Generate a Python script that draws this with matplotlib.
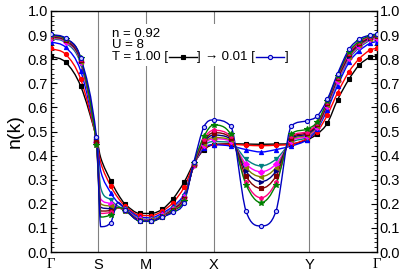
import numpy as np
import matplotlib
matplotlib.use("Agg")
import matplotlib.pyplot as plt
from matplotlib.path import Path
from matplotlib.patches import PathPatch, Rectangle
from matplotlib.lines import Line2D

# k-path coordinate of each sampled point (Gamma=0 ... Gamma=15.17)
k_path = [0.000, 0.698, 1.396, 2.131, 2.330, 2.792, 3.132, 3.471, 4.155, 4.667,
          5.202, 5.691, 6.203, 6.668, 7.134, 7.576, 8.367, 9.088, 9.786, 10.484,
          11.205, 11.926, 12.406, 12.871, 13.346, 13.881, 14.360, 14.858, 15.170]
has_marker = [1, 1, 1, 1, 0, 1, 0, 1, 1, 1,
              1, 1, 1, 1, 1, 1, 1, 1, 1, 1,
              1, 1, 1, 1, 1, 1, 1, 1, 1]
tick_pos = [0.0, 2.221, 4.443, 7.584, 12.027, 15.170]
tick_labels = ["Γ", "S", "M", "X", "Y", "Γ"]

n_T100 = [0.813, 0.787, 0.688, 0.475, 0.390, 0.296, 0.240, 0.198, 0.160, 0.160,
          0.178, 0.221, 0.289, 0.369, 0.425, 0.445, 0.449, 0.448, 0.447, 0.448,
          0.449, 0.465, 0.490, 0.534, 0.631, 0.717, 0.776, 0.808, 0.813]
n_red = [0.845, 0.820, 0.717, 0.470, 0.370, 0.274, 0.225, 0.190, 0.152, 0.151,
         0.170, 0.205, 0.268, 0.365, 0.430, 0.445, 0.447, 0.443, 0.441, 0.443,
         0.447, 0.470, 0.500, 0.568, 0.660, 0.748, 0.802, 0.838, 0.845]
n_blue = [0.873, 0.849, 0.751, 0.470, 0.335, 0.246, 0.205, 0.183, 0.145, 0.142,
          0.162, 0.190, 0.240, 0.362, 0.432, 0.445, 0.440, 0.425, 0.415, 0.425,
          0.440, 0.465, 0.510, 0.590, 0.690, 0.787, 0.835, 0.866, 0.873]
n_teal = [0.887, 0.868, 0.780, 0.465, 0.265, 0.216, 0.190, 0.178, 0.138, 0.135,
          0.155, 0.183, 0.232, 0.360, 0.440, 0.458, 0.455, 0.385, 0.357, 0.385,
          0.455, 0.475, 0.515, 0.600, 0.705, 0.800, 0.848, 0.878, 0.887]
n_magenta = [0.890, 0.872, 0.787, 0.455, 0.220, 0.200, 0.185, 0.176, 0.135, 0.132,
             0.152, 0.180, 0.228, 0.360, 0.445, 0.470, 0.460, 0.365, 0.333, 0.365,
             0.460, 0.480, 0.518, 0.605, 0.710, 0.805, 0.853, 0.882, 0.890]
n_olive = [0.892, 0.875, 0.790, 0.458, 0.200, 0.190, 0.184, 0.175, 0.133, 0.131,
           0.150, 0.178, 0.225, 0.360, 0.450, 0.475, 0.465, 0.350, 0.313, 0.350,
           0.465, 0.485, 0.522, 0.610, 0.715, 0.810, 0.857, 0.885, 0.892]
n_navy = [0.895, 0.878, 0.794, 0.460, 0.185, 0.180, 0.183, 0.174, 0.131, 0.130,
          0.148, 0.176, 0.222, 0.362, 0.455, 0.485, 0.470, 0.335, 0.292, 0.335,
          0.470, 0.490, 0.526, 0.615, 0.720, 0.815, 0.862, 0.888, 0.895]
n_maroon = [0.896, 0.880, 0.797, 0.455, 0.170, 0.172, 0.182, 0.173, 0.130, 0.129,
            0.147, 0.174, 0.220, 0.365, 0.460, 0.495, 0.475, 0.315, 0.264, 0.315,
            0.475, 0.495, 0.530, 0.618, 0.724, 0.820, 0.866, 0.891, 0.897]
n_pink = [0.898, 0.882, 0.800, 0.445, 0.160, 0.165, 0.182, 0.172, 0.129, 0.128,
          0.146, 0.172, 0.217, 0.367, 0.470, 0.505, 0.480, 0.290, 0.225, 0.290,
          0.480, 0.500, 0.535, 0.622, 0.728, 0.825, 0.870, 0.894, 0.900]
n_green = [0.900, 0.884, 0.803, 0.445, 0.145, 0.155, 0.185, 0.172, 0.128, 0.127,
           0.145, 0.170, 0.213, 0.370, 0.480, 0.527, 0.490, 0.280, 0.205, 0.280,
           0.490, 0.510, 0.540, 0.626, 0.732, 0.830, 0.875, 0.897, 0.902]
n_T001 = [0.903, 0.887, 0.806, 0.478, 0.105, 0.122, 0.206, 0.176, 0.129, 0.128,
          0.145, 0.165, 0.205, 0.375, 0.520, 0.548, 0.523, 0.170, 0.108, 0.170,
          0.523, 0.545, 0.564, 0.633, 0.739, 0.841, 0.883, 0.900, 0.903]

series = [
    (n_T100, "#000000", "s", "#000000"),
    (n_red, "#FF0000", "o", "#FF0000"),
    (n_blue, "#0000FF", "^", "#0000FF"),
    (n_teal, "#008080", "v", "#008080"),
    (n_magenta, "#FF00FF", "D", "#FF00FF"),
    (n_olive, "#808000", "<", "#808000"),
    (n_navy, "#000080", ">", "#000080"),
    (n_maroon, "#800000", "s", "#800000"),
    (n_pink, "#FF0080", "p", "#FF0080"),
    (n_green, "#008000", "*", "#008000"),
    (n_T001, "#0000C0", "o", "#C8C8FF"),
]


def smooth_path(x, y):
    """Smooth cubic through the points (central-difference tangents,
    limited so the curve does not overshoot), as a Bezier path."""
    x = np.asarray(x, float)
    y = np.asarray(y, float)
    h = np.diff(x)
    d = np.diff(y) / h
    m = np.zeros_like(y)
    m[1:-1] = (y[2:] - y[:-2]) / (x[2:] - x[:-2])
    m[0] = d[0]
    m[-1] = d[-1]
    for i in range(1, len(x) - 1):
        if d[i - 1] * d[i] <= 0:
            m[i] = 0.0
        else:
            lim = 3 * min(abs(d[i - 1]), abs(d[i]))
            m[i] = np.sign(m[i]) * min(abs(m[i]), lim)
    verts = [(x[0], y[0])]
    codes = [Path.MOVETO]
    for i in range(len(h)):
        verts += [(x[i] + h[i] / 3, y[i] + m[i] * h[i] / 3),
                  (x[i + 1] - h[i] / 3, y[i + 1] - m[i + 1] * h[i] / 3),
                  (x[i + 1], y[i + 1])]
        codes += [Path.CURVE4] * 3
    return Path(verts, codes)


plt.rcParams["font.family"] = ["Liberation Sans", "DejaVu Sans"]
fig = plt.figure(figsize=(4.04, 2.73), dpi=100)
ax = fig.add_axes([50.7 / 404, 21 / 273, 326 / 404, 241 / 273])

for xp in tick_pos[1:-1]:
    ax.axvline(xp, color="#808080", lw=0.8, zorder=1)

# white box behind annotation text
ax.add_patch(Rectangle((0.17, 0.77), 0.62, 0.175, transform=ax.transAxes,
                       facecolor="white", edgecolor="none", zorder=2))

kx = np.array(k_path)
mk = np.array(has_marker, bool)
for vals, col, mar, fc in series:
    ax.add_patch(PathPatch(smooth_path(kx, vals), facecolor="none",
                           edgecolor=col, lw=1.0, zorder=3))
    ms = 4.2 if mar == "*" else 3.0
    ax.plot(kx[mk], np.array(vals)[mk], ls="none", marker=mar, ms=ms,
            mfc=fc, mec=col, mew=0.8, zorder=4)

ax.set_xlim(tick_pos[0], tick_pos[-1])
ax.set_ylim(0, 1.0)
ax.set_xticks(tick_pos)
ax.set_xticklabels(tick_labels)
for lab in ax.get_xticklabels():
    if lab.get_text() == "Γ":
        lab.set_family(["Liberation Serif", "DejaVu Serif"])
ax.tick_params(axis="x", length=0, labelsize=10.5, pad=4)
ax.set_yticks(np.arange(0, 1.01, 0.1))
ax.set_yticks(np.arange(0, 1.001, 0.02), minor=True)
ax.yaxis.set_major_formatter(matplotlib.ticker.FormatStrFormatter("%.1f"))
ax.tick_params(axis="y", which="both", direction="in", left=True, right=True,
               labelleft=True, labelright=True, labelsize=10.5, pad=2)
ax.tick_params(axis="y", which="major", length=4, width=0.8)
ax.tick_params(axis="y", which="minor", length=2, width=0.6)
for s in ax.spines.values():
    s.set_linewidth(1.0)
ax.set_ylabel("n(k)", fontsize=14, labelpad=3)

fs = 9.5
ax.text(0.187, 0.905, "n = 0.92", transform=ax.transAxes, fontsize=fs,
        va="center", ha="left", zorder=5)
ax.text(0.187, 0.857, "U = 8", transform=ax.transAxes, fontsize=fs,
        va="center", ha="left", zorder=5)

# third line laid out piece by piece
yT = 0.810
renderer = fig.canvas.get_renderer()
inv = ax.transAxes.inverted()


def put_text(x0, s, **kw):
    t = ax.text(x0, yT, s, transform=ax.transAxes, fontsize=fs, va="center",
                ha="left", zorder=5, **kw)
    bb = t.get_window_extent(renderer)
    return inv.transform((bb.x1, bb.y0))[0]


def put_sample(x0, col, mar, fc):
    w = 29.0 / 326
    ax.add_line(Line2D([x0 + 0.003, x0 + w], [yT, yT], transform=ax.transAxes,
                       color=col, lw=1.0, zorder=5))
    ax.add_line(Line2D([x0 + w / 2 + 0.0015], [yT], transform=ax.transAxes,
                       marker=mar, ms=3, color=col, mfc=fc, mew=0.8, zorder=6))
    return x0 + w + 0.002


x = put_text(0.187, "T = 1.00 [")
x = put_sample(x, "black", "s", "black")
x = put_text(x, "] ")
x = put_text(x, "→", family=["Liberation Sans", "DejaVu Sans"])
x = put_text(x, " 0.01 [")
x = put_sample(x, "#0000C0", "o", "#C8C8FF")
put_text(x, "]")

fig.savefig("out.png", dpi=100)
